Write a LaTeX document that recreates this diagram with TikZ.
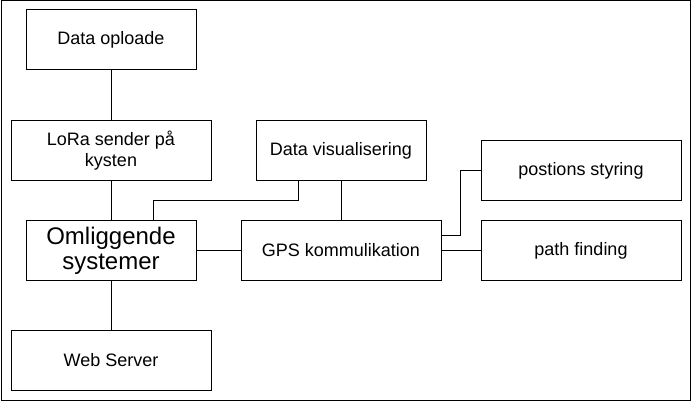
\documentclass[tikz,border=0pt]{standalone}
\usepackage{fontspec}
\setmainfont{Liberation Sans}
\usetikzlibrary{positioning}

\begin{document}
\begin{tikzpicture}[x=1pt,y=-1pt,line width=1pt,draw=black]
    \tikzstyle{block}=[rectangle,draw=black,line width=1pt,minimum height=60pt,inner sep=0pt,align=center,font=\fontsize{18}{21}\selectfont]
    \tikzstyle{narrow block}=[block, minimum width=170pt];
    \tikzstyle{wide block}=[block, minimum width=200pt];
    \tikzstyle{link}=[draw=black,line width=1pt]

    \useasboundingbox (0,0) rectangle (692,401);
    \draw[line width=1pt] (1,1) rectangle (690,400);

    % Draw the left column
    \node[narrow block] (dataop) at (111,40) {Data oploade};
    \node[wide block] (lora) at (111,150.5) {LoRa sender på\\kysten};
    \node[narrow block, font=\fontsize{24}{25}\selectfont] (omlig) at (111,250.5) {Omliggende\\systemer};
    \node[wide block] (web) at (111,360) {Web Server};

    % Draw the middle column
    \node[narrow block] (datavis) at (341,150.5) {Data visualisering};
    \node[wide block] (gps) at (341,250.5) {GPS kommulikation};

    % Draw the right column
    \node[wide block] (pos) at (581,170.5) {postions styring};
    \node[wide block] (path) at (581,250.5) {path finding};

    % Connect the boxes
    \path[link] (dataop) -- (lora);
    \path[link] (lora) -- (omlig);
    \path[link] (omlig) -- (web);
    \path[link] (omlig) -- (gps);
    \path[link] ([xshift=42pt]omlig.north) -- ++(0,-20) -| ([xshift=-43pt]datavis.south);
    \path[link] (datavis) -- (gps);
    \path[link] ([yshift=15pt]gps.east) -- ++(19,0) |- (pos.west);
    \path[link] (gps) -- (path);
\end{tikzpicture}
\end{document}
